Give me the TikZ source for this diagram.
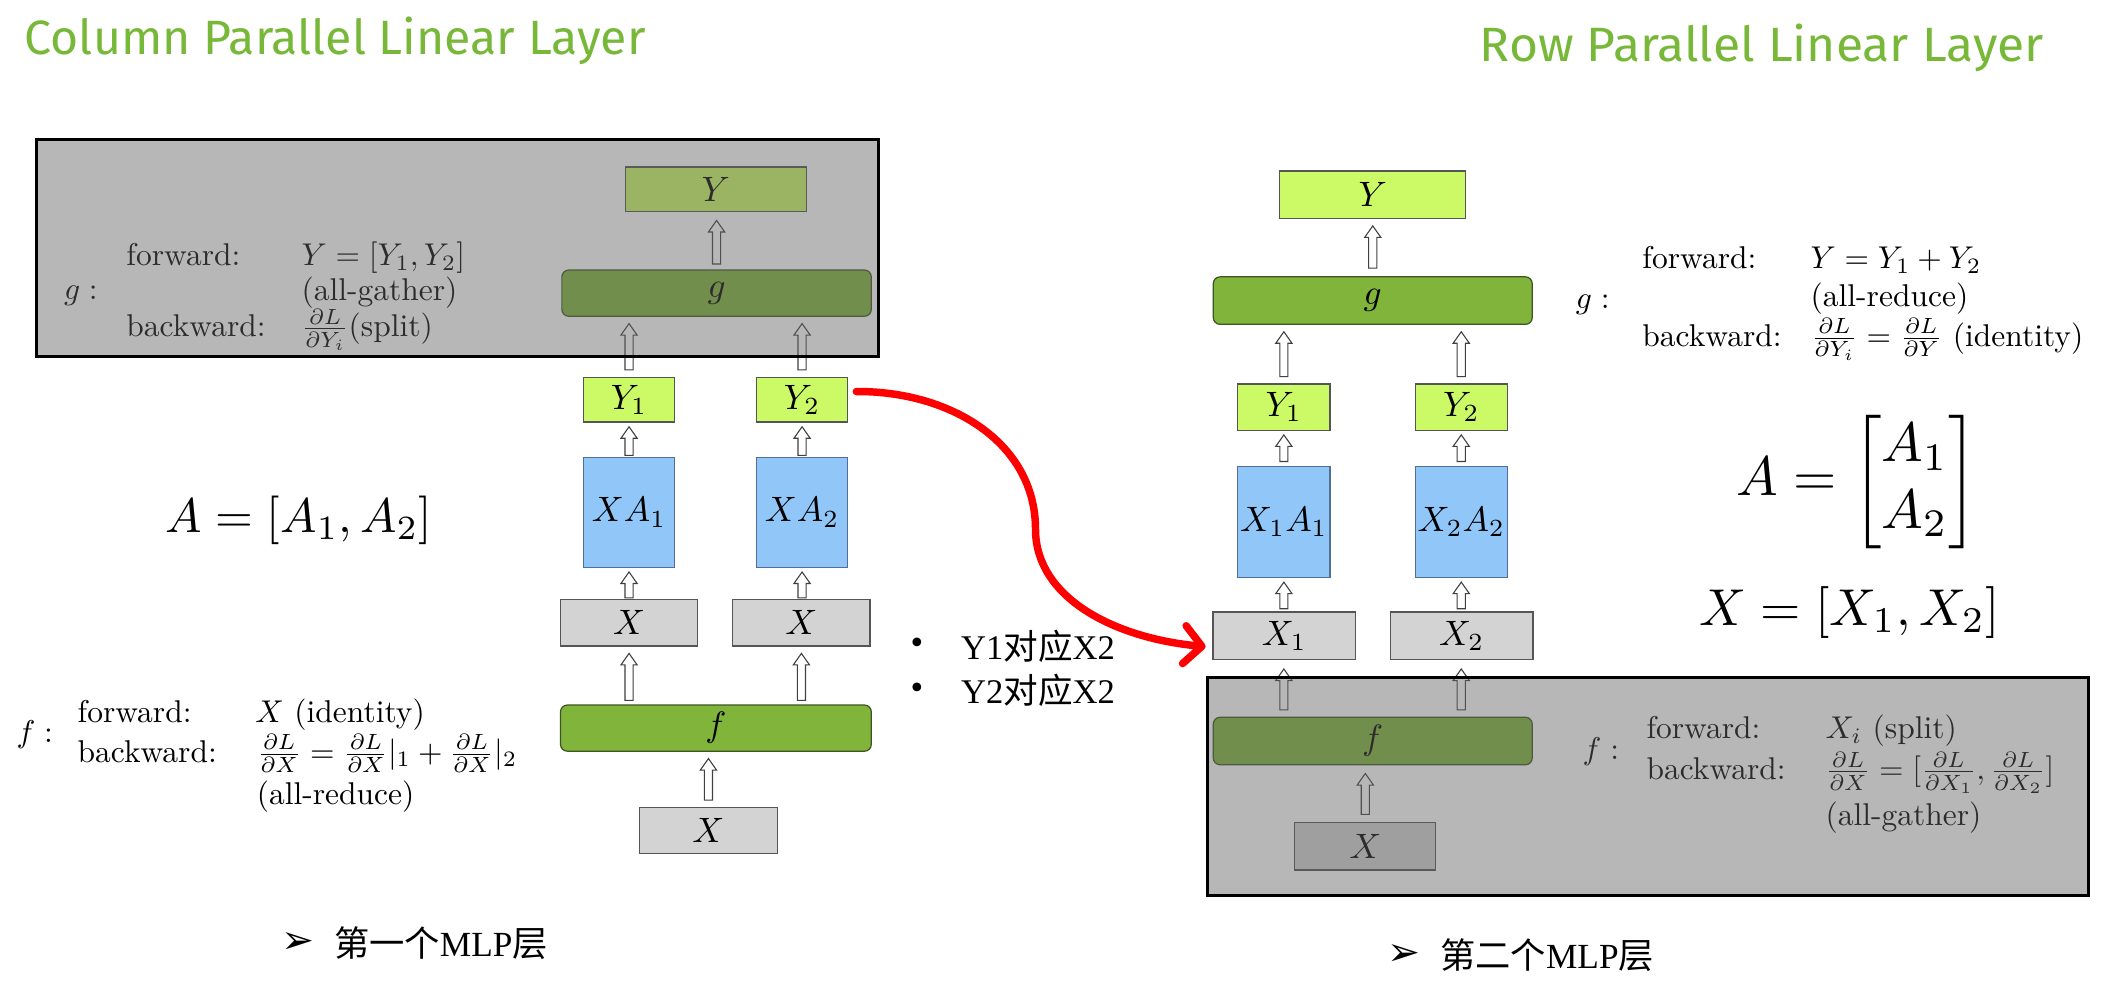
\RequirePackage{fix-cm}
\documentclass[tikz,border=0pt]{standalone}
\usepackage{fontspec}
\usepackage{amsmath}
\usepackage{graphicx}
\usetikzlibrary{calc,arrows.meta}
\setmainfont{lmroman10-regular.otf}[ItalicFont=lmroman10-italic.otf,BoldFont=lmroman10-bold.otf]
\newfontfamily\titlefont{Fira Sans}
\newfontfamily\cjk{Noto Sans CJK SC}
\newfontfamily\dejavu{DejaVu Sans}
\newfontfamily\lserif{Liberation Serif}
\newcommand\sxtxt[1]{\scalebox{2.32}{#1}}
\newcommand\slbl[1]{\scalebox{2.6}{#1}}
\definecolor{titlegreen}{RGB}{120,184,56}
\definecolor{lime}{RGB}{204,250,102}
\definecolor{fgreen}{RGB}{128,180,58}
\definecolor{lblue}{RGB}{144,198,248}
\definecolor{lgray}{RGB}{211,211,211}
\definecolor{panelgray}{RGB}{98,98,98}
\definecolor{boxline}{RGB}{85,85,85}
\definecolor{blueline}{RGB}{80,110,150}
\definecolor{greenline}{RGB}{60,85,35}
\begin{document}
\begin{tikzpicture}[x=1pt,y=-1pt,
  bx/.style={line width=0.9pt, inner sep=0pt, font=\fontsize{10}{12}\selectfont},
  ybox/.style={bx, draw=boxline, fill=lime},
  xabox/.style={bx, draw=blueline, fill=lblue},
  xbox/.style={bx, draw=boxline, fill=lgray},
  gbox/.style={bx, draw=greenline, fill=fgreen, rounded corners=5pt},
  txt/.style={anchor=base west, inner sep=0pt, font=\fontsize{10}{12}\selectfont},
  harrow/.style={draw=black!75, fill=white, line width=0.8pt,
    to path={let \p1=(\tikztostart), \p2=(\tikztotarget) in
      (\x1-3pt,\y1) -- (\x1-3pt,\y2-8.5pt) -- (\x1-6pt,\y2-8.5pt) -- (\x1,\y2)
      -- (\x1+6pt,\y2-8.5pt) -- (\x1+3pt,\y2-8.5pt) -- (\x1+3pt,\y1) -- cycle}},
  panel/.style={fill=panelgray, fill opacity=0.453},
  panelborder/.style={draw=black, line width=2.2pt},
  redarr/.style={draw=red, line width=5.5pt, line cap=round,
    -{Straight Barb[length=13pt,width=28pt,round]}}
]
\fill[white] (0,0) rectangle (1568,735.4);
\useasboundingbox (0,0) rectangle (1568,735.4);

% titles
\node[anchor=base west, inner sep=0pt, text=titlegreen] (tl) at (18,40.5)
  {\resizebox{457.5pt}{\height}{\titlefont\fontsize{35.5}{40}\selectfont Column Parallel Linear Layer}};
\node[anchor=base west, inner sep=0pt, text=titlegreen] (tr) at (1090,45.5)
  {\resizebox{415.6pt}{\height}{\titlefont\fontsize{35.5}{40}\selectfont Row Parallel Linear Layer}};

% ---------------- left diagram
\node[ybox, minimum width=133pt, minimum height=33pt] (lY) at (527.5,139.5) {\slbl{$Y$}};
\node[gbox, minimum width=228pt, minimum height=34pt] (lg) at (528,216) {\slbl{$g$}};
\node[ybox, minimum width=67pt, minimum height=33pt] (lY1) at (463.5,294.5) {\slbl{$Y_1$}};
\node[ybox, minimum width=67pt, minimum height=33pt] (lY2) at (591,294.5) {\slbl{$Y_2$}};
\node[xabox, minimum width=67pt, minimum height=81pt] (lXA1) at (463.5,377.5) {\slbl{$XA_1$}};
\node[xabox, minimum width=67pt, minimum height=81pt] (lXA2) at (591,377.5) {\slbl{$XA_2$}};
\node[xbox, minimum width=101pt, minimum height=34pt] (lX1) at (463.5,459) {\slbl{$X$}};
\node[xbox, minimum width=101pt, minimum height=34pt] (lX2) at (590.5,459) {\slbl{$X$}};
\node[gbox, minimum width=229pt, minimum height=34pt] (lf) at (527.5,536.5) {\slbl{$f$}};
\node[xbox, minimum width=102pt, minimum height=34pt] (lX) at (522,612) {\slbl{$X$}};

\draw[harrow] ($(lg.north)+(0,-4)$) to ($(lg.north |- lY.south)+(0,6)$);
\draw[harrow] ($(lY1.north)+(0,-5)$) to ($(lY1.north |- lg.south)+(0,5)$);
\draw[harrow] ($(lY2.north)+(0,-5)$) to ($(lY2.north |- lg.south)+(0,5)$);
\draw[harrow] ($(lXA1.north)+(0,-1)$) to ($(lXA1.north |- lY1.south)+(0,3)$);
\draw[harrow] ($(lXA2.north)+(0,-1)$) to ($(lXA2.north |- lY2.south)+(0,3)$);
\draw[harrow] ($(lXA1.south |- lX1.north)+(0,-1)$) to ($(lXA1.south)+(0,3)$);
\draw[harrow] ($(lXA2.south |- lX2.north)+(0,-1)$) to ($(lXA2.south)+(0,3)$);
\draw[harrow] ($(lf.north -| lX1.north)+(0,-3)$) to ($(lX1.south)+(0,5)$);
\draw[harrow] ($(lf.north -| lX2.north)+(0,-3)$) to ($(lX2.south)+(0,5)$);
\draw[harrow] ($(lX.north)+(0,-5)$) to ($(lX.north |- lf.south)+(0,5)$);

% left texts
\node[txt] (lglab) at (47,221) {\sxtxt{$g:$}};
\node[txt] (lgfw) at (93,196) {\sxtxt{forward:}};
\node[txt] (lgfwm) at (222,196) {\sxtxt{$Y=[Y_1,Y_2]$}};
\node[txt] (lgag) at (222,221.5) {\sxtxt{(all-gather)}};
\node[txt] (lgbw) at (93,248) {\sxtxt{backward:}};
\node[txt] (lgbwm) at (222,248) {\sxtxt{$\frac{\partial L}{\partial Y_i}$(split)}};

\node[txt] (lflab) at (12,547) {\sxtxt{$f:$}};
\node[txt] (lffw) at (57,532) {\sxtxt{forward:}};
\node[txt] (lffwm) at (188,532) {\sxtxt{$X$ (identity)}};
\node[txt] (lfbw) at (57,561.5) {\sxtxt{backward:}};
\node[txt] (lfbwm) at (189,561.5) {\sxtxt{$\frac{\partial L}{\partial X}=\frac{\partial L}{\partial X}|_1+\frac{\partial L}{\partial X}|_2$}};
\node[txt] (lfar) at (189,592.5) {\sxtxt{(all-reduce)}};

\node[txt] (lA) at (122,392) {\scalebox{3.58}{$A=[A_1,A_2]$}};

\node[anchor=west, inner sep=0pt, font=\dejavu\fontsize{29}{34}\selectfont] (lbul) at (207,695) {➢};
\node[anchor=west, inner sep=0pt, font=\fontsize{26}{31}\selectfont] (lmlp) at (246,695) {{\cjk 第一个}{\lserif MLP}{\cjk 层}};

% ---------------- right diagram
\node[ybox, minimum width=137pt, minimum height=35pt] (rY) at (1011.5,143.5) {\slbl{$Y$}};
\node[gbox, minimum width=235pt, minimum height=35pt] (rg) at (1011.5,221.5) {\slbl{$g$}};
\node[ybox, minimum width=68pt, minimum height=34pt] (rY1) at (946,300) {\slbl{$Y_1$}};
\node[ybox, minimum width=68pt, minimum height=34pt] (rY2) at (1076.7,300) {\slbl{$Y_2$}};
\node[xabox, minimum width=68pt, minimum height=82pt] (rXA1) at (946,384.5) {\slbl{$X_1A_1$}};
\node[xabox, minimum width=68pt, minimum height=82pt] (rXA2) at (1076.7,384.5) {\slbl{$X_2A_2$}};
\node[xbox, minimum width=105pt, minimum height=35pt] (rX1) at (946.3,468.5) {\slbl{$X_1$}};
\node[xbox, minimum width=105pt, minimum height=35pt] (rX2) at (1077,468.5) {\slbl{$X_2$}};
\node[gbox, minimum width=235pt, minimum height=35pt] (rf) at (1011.5,546) {\slbl{$f$}};
\node[xbox, minimum width=104pt, minimum height=35pt] (rX) at (1006,623.5) {\slbl{$X$}};

\draw[harrow] ($(rg.north)+(0,-6)$) to ($(rg.north |- rY.south)+(0,5)$);
\draw[harrow] ($(rY1.north)+(0,-5)$) to ($(rY1.north |- rg.south)+(0,5)$);
\draw[harrow] ($(rY2.north)+(0,-5)$) to ($(rY2.north |- rg.south)+(0,5)$);
\draw[harrow] ($(rXA1.north)+(0,-3)$) to ($(rXA1.north |- rY1.south)+(0,3)$);
\draw[harrow] ($(rXA2.north)+(0,-3)$) to ($(rXA2.north |- rY2.south)+(0,3)$);
\draw[harrow] ($(rXA1.south |- rX1.north)+(0,-2)$) to ($(rXA1.south)+(0,3)$);
\draw[harrow] ($(rXA2.south |- rX2.north)+(0,-2)$) to ($(rXA2.south)+(0,3)$);
\draw[harrow] ($(rf.north -| rY1.north)+(0,-5)$) to ($(rY1.north |- rX1.south)+(0,6.5)$);
\draw[harrow] ($(rf.north -| rY2.north)+(0,-5)$) to ($(rY2.north |- rX2.south)+(0,6.5)$);
\draw[harrow] ($(rX.north)+(0,-5.5)$) to ($(rX.north |- rf.south)+(0,6)$);

% right texts
\node[txt] (rglab) at (1161,227) {\sxtxt{$g:$}};
\node[txt] (rgfw) at (1210,198) {\sxtxt{forward:}};
\node[txt] (rgfwm) at (1334,198) {\sxtxt{$Y=Y_1+Y_2$}};
\node[txt] (rgar) at (1334,226) {\sxtxt{(all-reduce)}};
\node[txt] (rgbw) at (1210,255) {\sxtxt{backward:}};
\node[txt] (rgbwm) at (1334,255) {\sxtxt{$\frac{\partial L}{\partial Y_i}=\frac{\partial L}{\partial Y}$ (identity)}};

\node[txt] (rflab) at (1166,559.5) {\sxtxt{$f:$}};
\node[txt] (rffw) at (1213,544) {\sxtxt{forward:}};
\node[txt] (rffwm) at (1345,544) {\sxtxt{$X_i$ (split)}};
\node[txt] (rfbw) at (1213,574.5) {\sxtxt{backward:}};
\node[txt] (rfbwm) at (1345,574.5) {\sxtxt{$\frac{\partial L}{\partial X}=[\frac{\partial L}{\partial X_1},\frac{\partial L}{\partial X_2}]$}};
\node[txt] (rfag) at (1345,608) {\sxtxt{(all-gather)}};

\node[anchor=west, inner sep=0pt, font=\fontsize{10}{12}\selectfont] (rA) at (1279,355)
  {\scalebox{4.1}{$A=\begin{bmatrix}A_1\\A_2\end{bmatrix}$}};
\node[txt] (rXeq) at (1252,460.6) {\scalebox{3.82}{$X=[X_1,X_2]$}};

\node[anchor=west, inner sep=0pt, font=\dejavu\fontsize{29}{34}\selectfont] (rbul) at (1022,703.7) {➢};
\node[anchor=west, inner sep=0pt, font=\fontsize{26}{31}\selectfont] (rmlp) at (1061,703.7) {{\cjk 第二个}{\lserif MLP}{\cjk 层}};

% middle bullets
\node[font=\dejavu\fontsize{22}{26}\selectfont, inner sep=0pt] (b1) at (676,476) {•};
\node[anchor=west, inner sep=0pt, font=\fontsize{25.5}{29}\selectfont] (b1t) at (708,476) {{\lserif Y1}{\cjk 对应}{\lserif X2}};
\node[font=\dejavu\fontsize{22}{26}\selectfont, inner sep=0pt] (b2) at (676,509) {•};
\node[anchor=west, inner sep=0pt, font=\fontsize{25.5}{29}\selectfont] (b2t) at (708,509) {{\lserif Y2}{\cjk 对应}{\lserif X2}};

% panels (semi-transparent overlays)
\fill[panel] (27,103) rectangle (647,263);
\draw[panelborder] (27,103) rectangle (647,263);
\fill[panel] (889.5,499) rectangle (1538.7,659.5);
\draw[panelborder] (889.5,499) rectangle (1538.7,659.5);

% red arrow
\coordinate (rmid) at (763,390);
\draw[redarr] ($(lY2.east)+(6,-6)$) .. controls (700,288) and (763,326) .. (rmid)
  .. controls (763,440) and (820,470) .. ($(rX1.west)+(-5,8)$);
\end{tikzpicture}
\end{document}
